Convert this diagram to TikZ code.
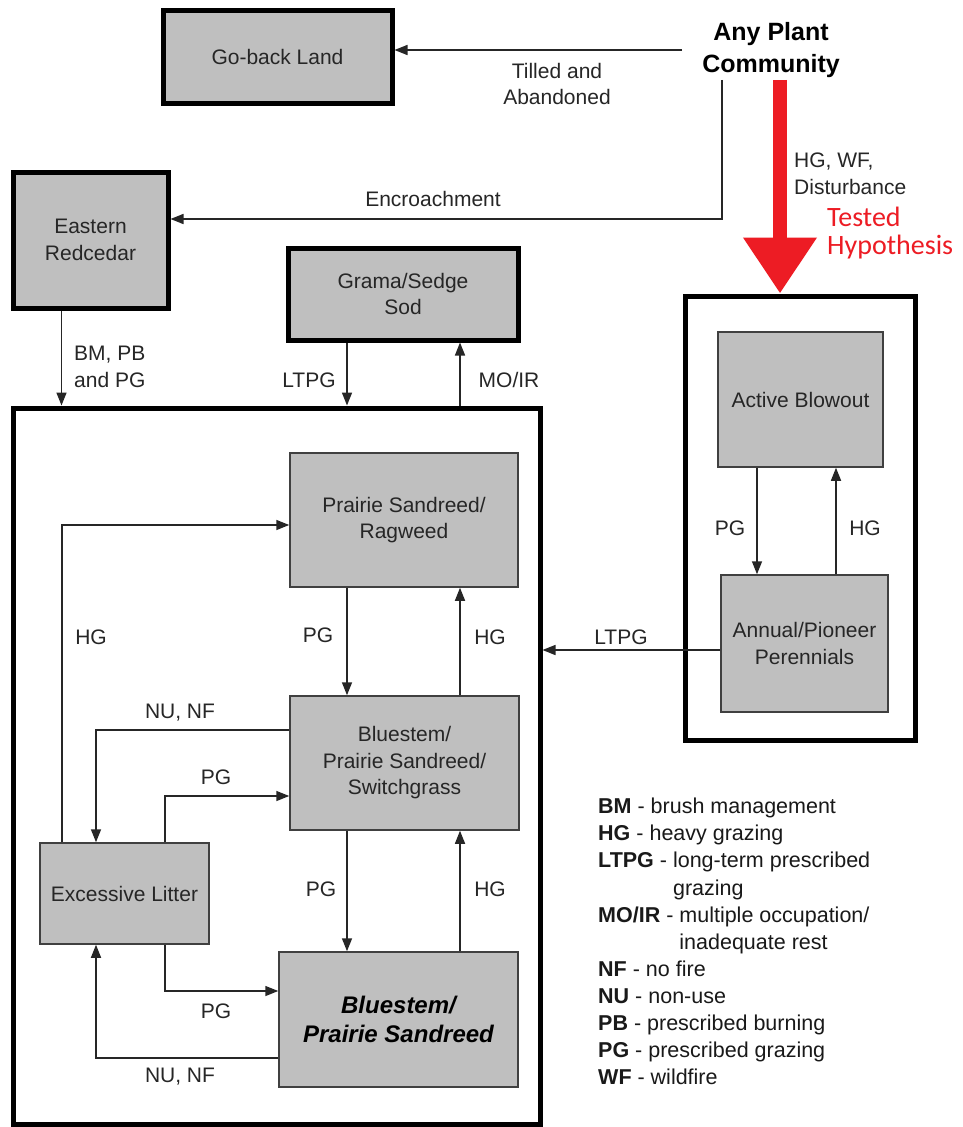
\documentclass[tikz,border=0pt]{standalone}
\usepackage{fontspec}
\setmainfont{Liberation Sans}
\newfontfamily\calfont{Carlito}
\usetikzlibrary{arrows.meta}
\definecolor{hypred}{HTML}{ED1C24}
\begin{document}
\begin{tikzpicture}[x=1pt,y=-1pt,
  box/.style={draw=black!75, line width=1.5pt, fill=black!25, inner sep=0pt, align=center,
    font=\fontsize{21}{26.5}\selectfont, text=black!85},
  thickbox/.style={box, draw=black, line width=5pt},
  frame/.style={draw=black, line width=5pt, fill=none, inner sep=0pt},
  arr/.style={draw=black!85, line width=1.5pt, -{Triangle[length=13pt,width=10pt]}},
  redarr/.style={draw=hypred, line width=14pt, -{Triangle[length=56pt,width=70pt]}},
  lab/.style={font=\fontsize{21}{26.5}\selectfont, text=black!85, align=center, inner sep=0pt},
  labl/.style={lab, align=left, anchor=west}]
\useasboundingbox (0,0) rectangle (962,1127);
\fill[white] (0,0) rectangle (962,1127);

% frames
\node[frame, minimum width=527pt, minimum height=716pt] (main) at (276.5,766) {};
\node[frame, minimum width=230pt, minimum height=444pt] (rbox) at (800,518) {};

% thick boxes
\node[thickbox, minimum width=229pt, minimum height=93pt] (goback) at (277.5,56.5) {Go-back Land};
\node[thickbox, minimum width=155pt, minimum height=136pt] (erc) at (90.5,240) {Eastern\\Redcedar};
\node[thickbox, minimum width=230pt, minimum height=92pt] (grama) at (403,294) {Grama/Sedge\\Sod};

% right box states
\node[box, minimum width=165pt, minimum height=135pt] (blow) at (800.5,399.5) {Active Blowout};
\node[box, minimum width=167pt, minimum height=137pt] (annual) at (804.5,643.5) {Annual/Pioneer\\Perennials};

% main box states
\node[box, minimum width=228pt, minimum height=134pt] (psr) at (404,520) {Prairie Sandreed/\\Ragweed};
\node[box, minimum width=229pt, minimum height=134pt] (bps) at (404.5,763) {Bluestem/\\Prairie Sandreed/\\Switchgrass};
\node[box, minimum width=169pt, minimum height=101pt] (el) at (124.5,893.5) {Excessive Litter};
\node[box, minimum width=239pt, minimum height=135pt, font=\fontsize{24}{29}\selectfont\bfseries\itshape, text=black] (bpsr) at (398.5,1019.5) {Bluestem/\\Prairie Sandreed};

% any plant community
\node[inner xsep=20pt, inner ysep=2pt, align=center, font=\fontsize{25}{32}\selectfont\bfseries] (any) at (771,50) {Any Plant\\Community};

% top connectors
\draw[arr] (any.west) -- (any.west -| goback.east);
\draw[arr] ([xshift=-49pt]any.south) |- ([yshift=21pt]erc.east);
\coordinate (rtop) at ([xshift=9pt]any.south);
\draw[redarr] (rtop) -- (rtop |- rbox.north);

\coordinate (a1) at ([xshift=-29pt]erc.south);
\draw[arr] (a1) -- (a1 |- main.north);
\coordinate (a2) at ([xshift=-56pt]grama.south);
\draw[arr] (a2) -- (a2 |- main.north);
\coordinate (a3) at ([xshift=57pt]grama.south);
\draw[arr] (a3 |- main.north) -- (a3);

% right box connectors
\coordinate (a4) at ([xshift=-43.5pt]blow.south);
\draw[arr] (a4) -- (a4 |- annual.north);
\coordinate (a5) at ([xshift=35.5pt]blow.south);
\draw[arr] (a5 |- annual.north) -- (a5);
\draw[arr] ([yshift=-6.5pt]annual.west) -- ([yshift=-6.5pt]annual.west -| main.east);

% main box connectors
\coordinate (b1) at ([xshift=-57pt]psr.south);
\draw[arr] (b1) -- (b1 |- bps.north);
\coordinate (b2) at ([xshift=56pt]psr.south);
\draw[arr] (b2 |- bps.north) -- (b2);
\draw[arr] ([xshift=-62.5pt]el.north) |- ([yshift=-5pt]psr.west);
\draw[arr] ([yshift=33pt]bps.west) -| ([xshift=-28.5pt]el.north);
\draw[arr] ([xshift=40.5pt]el.north) |- ([yshift=-33pt]bps.west);
\coordinate (b3) at ([xshift=-57.5pt]bps.south);
\draw[arr] (b3) -- (b3 |- bpsr.north);
\coordinate (b4) at ([xshift=55.5pt]bps.south);
\draw[arr] (b4 |- bpsr.north) -- (b4);
\draw[arr] ([xshift=40.5pt]el.south) |- ([yshift=28.5pt]bpsr.west);
\draw[arr] ([yshift=-38.5pt]bpsr.west) -| ([xshift=-28.5pt]el.south);

% labels
\node[lab] (l1) at (557,84) {Tilled and\\Abandoned};
\node[lab] (l2) at (433,199) {Encroachment};
\node[labl] (l3) at (794,174) {HG, WF,\\Disturbance};
\node[labl, font=\fontsize{28}{28}\selectfont\calfont, text=hypred] (l4) at (827,233) {Tested\\Hypothesis};
\node[labl] (l5) at (74,367) {BM, PB\\and PG};
\node[lab] (l6) at (309,380) {LTPG};
\node[lab] (l7) at (509,380) {MO/IR};
\node[lab] (l8) at (730,528) {PG};
\node[lab] (l9) at (865,528) {HG};
\node[lab] (l10) at (621,637) {LTPG};
\node[lab] (l11) at (91,637) {HG};
\node[lab] (l12) at (318,635) {PG};
\node[lab] (l13) at (490,637) {HG};
\node[lab] (l14) at (180,713) {NU, NF};
\node[lab] (l15) at (216,777) {PG};
\node[lab] (l16) at (321,889) {PG};
\node[lab] (l17) at (490,889) {HG};
\node[lab] (l18) at (216,1011) {PG};
\node[lab] (l19) at (180,1077) {NU, NF};

% legend
\node[anchor=north west, inner sep=0pt, align=left, text=black!90,
  font=\fontsize{21.5}{27.1}\selectfont] (legend) at (598,798) {%
\textbf{BM} - brush management\\
\textbf{HG} - heavy grazing\\
\textbf{LTPG} - long-term prescribed\\
\phantom{\textbf{LTPG} - }grazing\\
\textbf{MO/IR} - multiple occupation/\\
\phantom{\textbf{MO/IR} - }inadequate rest\\
\textbf{NF} - no fire\\
\textbf{NU} - non-use\\
\textbf{PB} - prescribed burning\\
\textbf{PG} - prescribed grazing\\
\textbf{WF} - wildfire};
\end{tikzpicture}
\end{document}
